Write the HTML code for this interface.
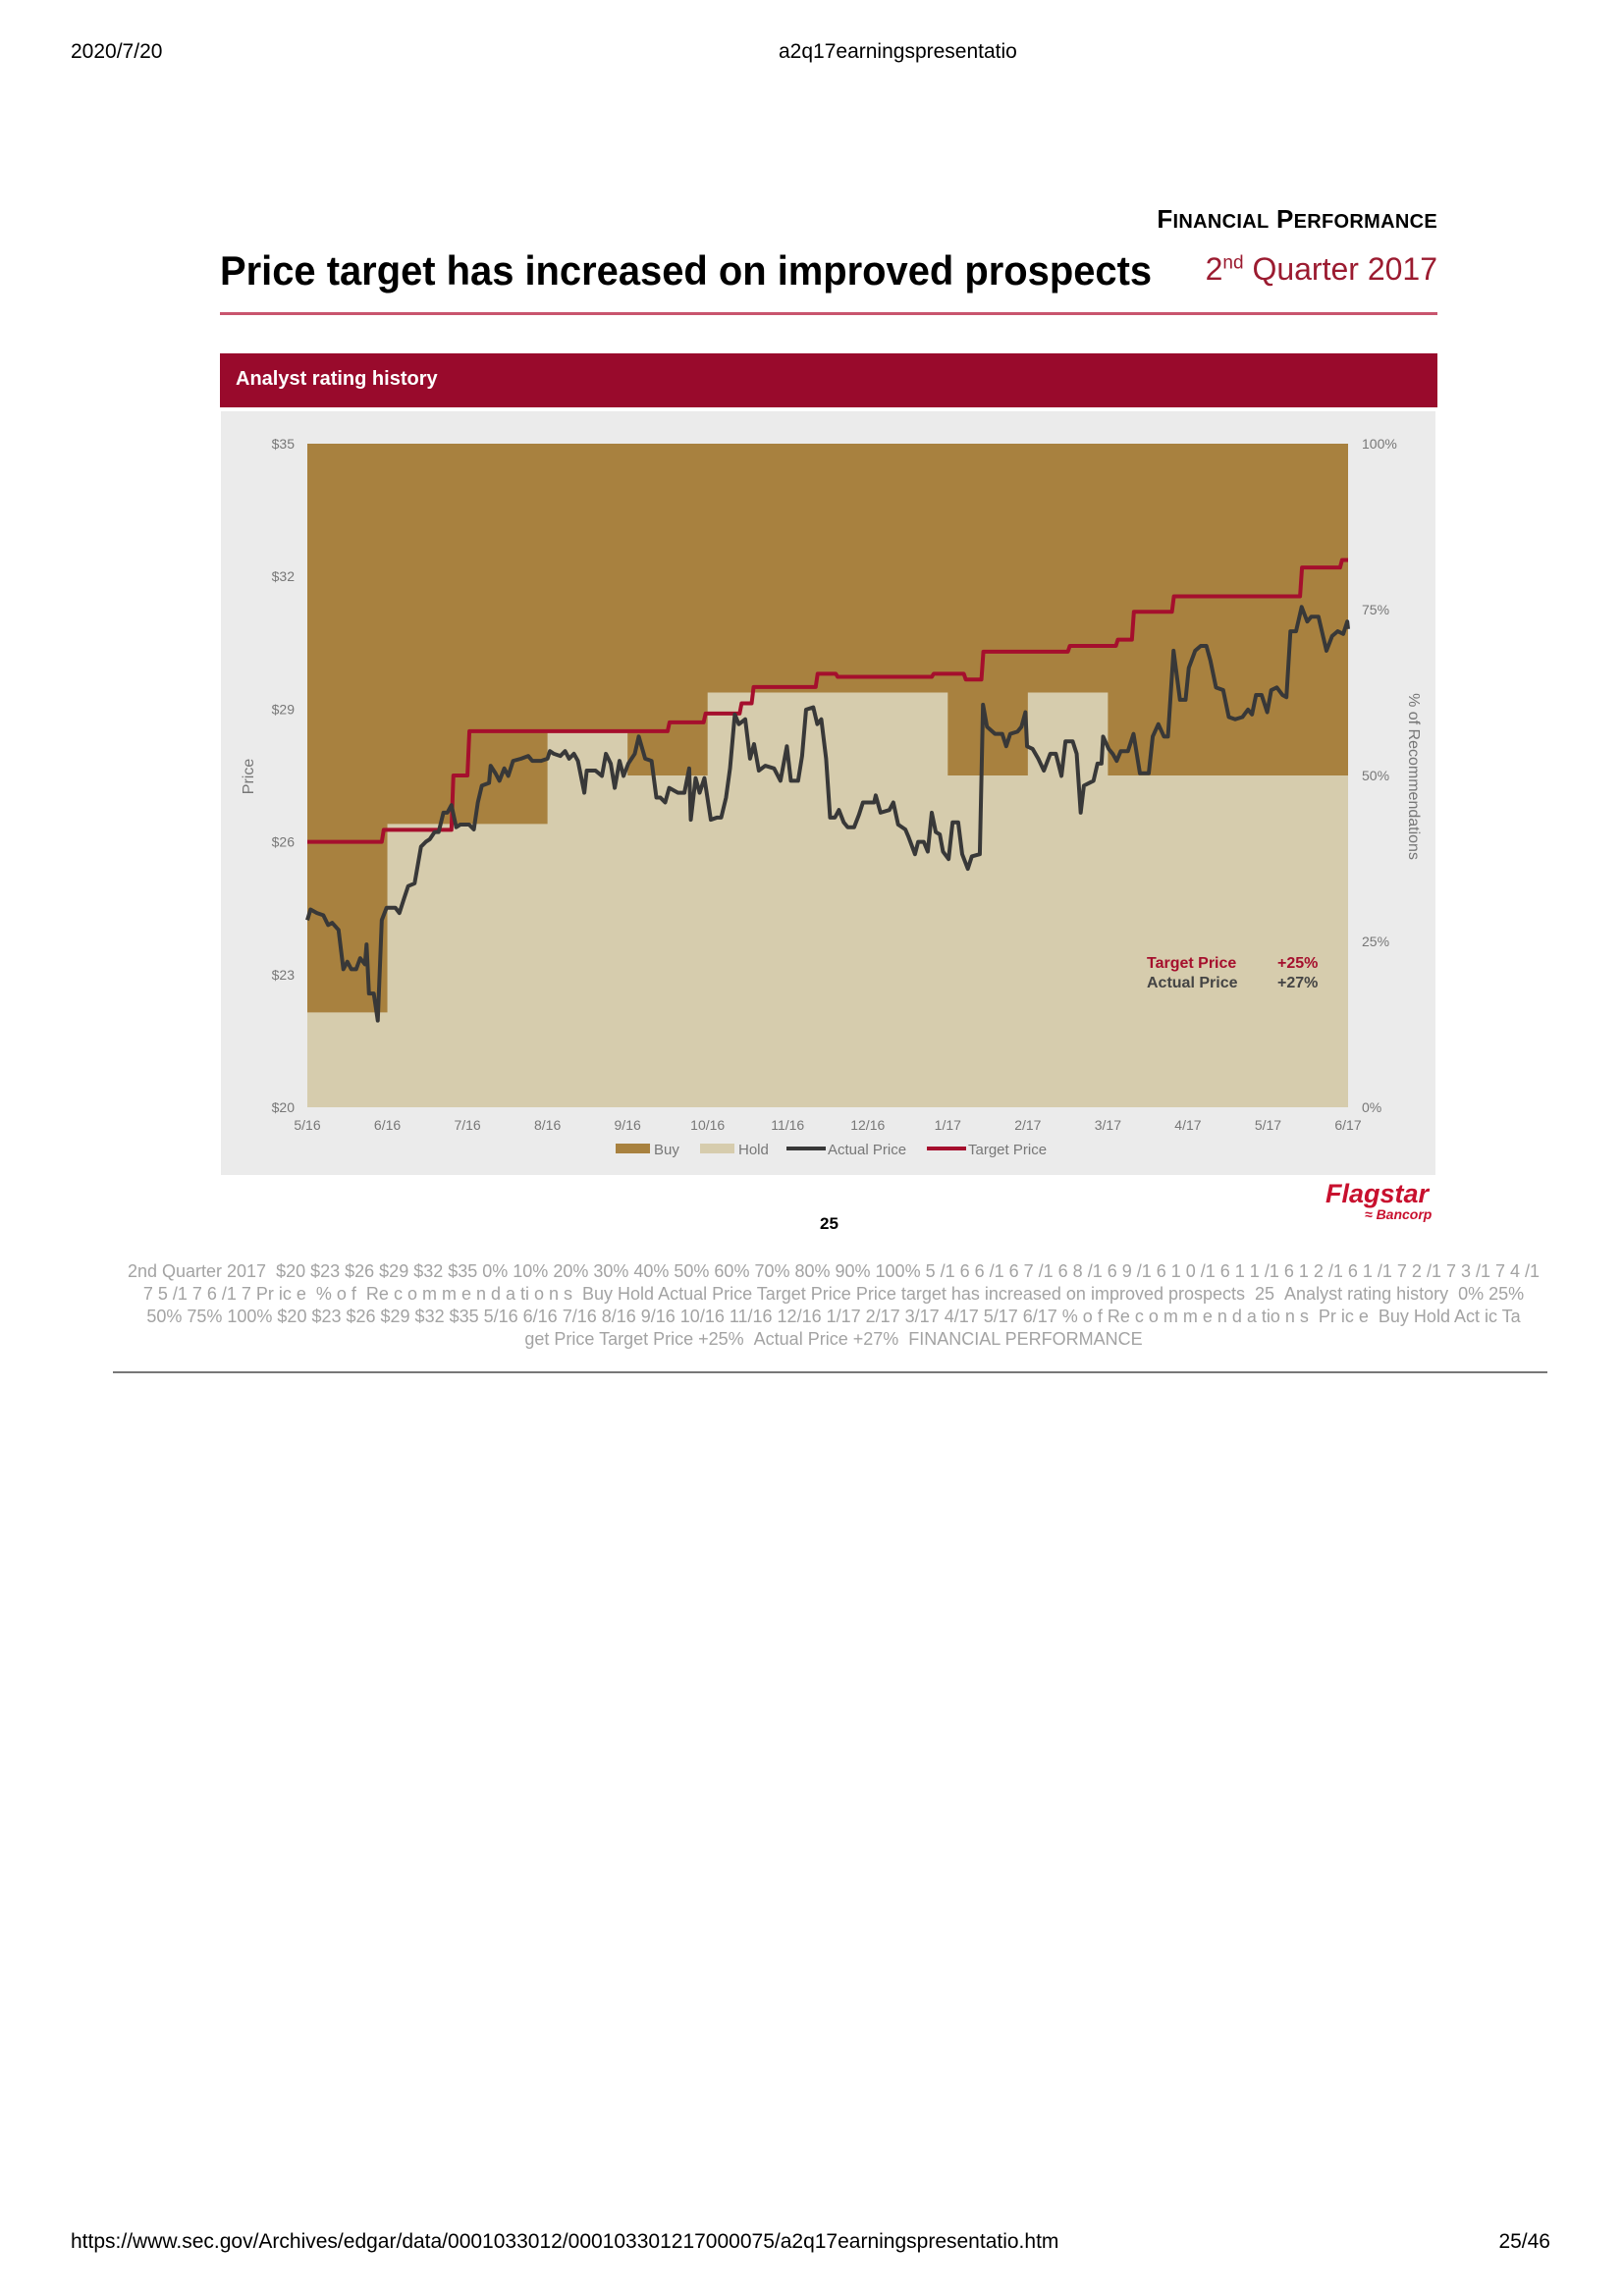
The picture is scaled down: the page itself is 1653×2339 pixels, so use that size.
<!DOCTYPE html>
<html><head><meta charset="utf-8">
<style>
body{margin:0;background:#fff;width:1653px;height:2339px;position:relative;overflow:hidden;font-family:"Liberation Sans",Arial,sans-serif}
.a{position:absolute;white-space:nowrap}
.para{position:absolute;left:0;width:1698px;text-align:center;color:#a3a3a3;font-size:18px;white-space:nowrap}
</style></head><body>
<div class="a" style="left:72px;top:41px;font-size:21px">2020/7/20</div>
<div class="a" style="left:793px;top:41px;font-size:21px">a2q17earningspresentatio</div>
<div class="a" style="right:189px;top:208px;font-size:26px;font-weight:bold;letter-spacing:0.3px">F<span style="font-size:20px">INANCIAL</span> P<span style="font-size:20px">ERFORMANCE</span></div>
<div class="a" style="left:224px;top:252px;font-size:42px;font-weight:bold;transform:scaleX(0.95);transform-origin:left">Price target has increased on improved prospects</div>
<div class="a" style="right:189px;top:256px;font-size:32px;color:#9b1b30">2<sup style="font-size:19px">nd</sup> Quarter 2017</div>
<div class="a" style="left:224px;top:318px;width:1240px;height:3px;background:#c9556e"></div>
<div class="a" style="left:224px;top:360px;width:1240px;height:55px;background:#990a2c"></div>
<div class="a" style="left:240px;top:375px;font-size:20px;font-weight:bold;color:#fff">Analyst rating history</div>
<div class="a" style="left:225px;top:419px;width:1237px;height:778px;background:#ebebeb"></div>
<svg class="a" style="left:0;top:0" width="1653" height="2339" id="chart"></svg>
<div class="a" style="left:835px;top:1237px;font-size:17px;font-weight:bold">25</div>
<div class="a" style="left:1350px;top:1202px;color:#c8102e;font-style:italic;font-weight:bold;font-size:27px;line-height:28px">Flagstar<div style="font-size:14px;line-height:14px;padding-left:40px">≈ Bancorp</div></div>
<div class="para" style="top:1285px">2nd Quarter 2017 &nbsp;$20 $23 $26 $29 $32 $35 0% 10% 20% 30% 40% 50% 60% 70% 80% 90% 100% 5 /1 6 6 /1 6 7 /1 6 8 /1 6 9 /1 6 1 0 /1 6 1 1 /1 6 1 2 /1 6 1 /1 7 2 /1 7 3 /1 7 4 /1</div>
<div class="para" style="top:1308px">7 5 /1 7 6 /1 7 Pr ic e &nbsp;% o f &nbsp;Re c o m m e n d a ti o n s &nbsp;Buy Hold Actual Price Target Price Price target has increased on improved prospects &nbsp;25 &nbsp;Analyst rating history &nbsp;0% 25%</div>
<div class="para" style="top:1331px">50% 75% 100% $20 $23 $26 $29 $32 $35 5/16 6/16 7/16 8/16 9/16 10/16 11/16 12/16 1/17 2/17 3/17 4/17 5/17 6/17 % o f Re c o m m e n d a tio n s &nbsp;Pr ic e &nbsp;Buy Hold Act ic Ta</div>
<div class="para" style="top:1354px">get Price Target Price +25% &nbsp;Actual Price +27% &nbsp;FINANCIAL PERFORMANCE</div>
<div class="a" style="left:115px;top:1397px;width:1461px;height:2px;background:#777"></div>
<div class="a" style="left:72px;top:2272px;font-size:21px">https://www.sec.gov/Archives/edgar/data/0001033012/000103301217000075/a2q17earningspresentatio.htm</div>
<div class="a" style="right:74px;top:2272px;font-size:21px">25/46</div>
<script>
const monthLabels=["5/16","6/16","7/16","8/16","9/16","10/16","11/16","12/16","1/17","2/17","3/17","4/17","5/17","6/17"];
const priceTicks=[20,23,26,29,32,35];
const pctTicks=[0,25,50,75,100];
const holdT=[0,1,3,4,5,8,9,10,13];
const holdPct=[14.3,42.7,56.6,50,62.5,50,62.5,50];
const targetT=[0,0.93,1.8,2.0,4.5,4.95,5.4,5.55,6.35,6.6,7.8,8.2,8.42,9.5,10.1,10.3,10.8,12.4,12.9];
const targetP=[26,26.27,27.5,28.5,28.7,28.9,29.13,29.5,29.8,29.73,29.8,29.67,30.3,30.43,30.57,31.2,31.55,32.2,32.37];
const actualT=[0,.04,.12,.2,.26,.31,.39,.45,.5,.55,.61,.66,.72,.74,.77,.83,.88,.93,.99,1.1,1.15,1.21,1.26,1.34,1.42,1.48,1.53,1.59,1.64,1.7,1.75,1.8,1.86,1.91,2.02,2.08,2.13,2.18,2.27,2.29,2.35,2.4,2.46,2.51,2.57,2.67,2.76,2.81,2.92,3,3.03,3.08,3.16,3.22,3.27,3.33,3.38,3.46,3.49,3.6,3.68,3.73,3.79,3.84,3.9,3.95,4.01,4.09,4.14,4.22,4.3,4.36,4.41,4.47,4.52,4.58,4.63,4.71,4.77,4.79,4.85,4.9,4.96,5.04,5.12,5.17,5.23,5.28,5.34,5.39,5.47,5.53,5.58,5.64,5.72,5.83,5.91,5.99,6.04,6.13,6.18,6.23,6.32,6.37,6.42,6.48,6.53,6.59,6.64,6.7,6.75,6.83,6.89,6.94,6.99,7.08,7.1,7.16,7.27,7.32,7.38,7.47,7.51,7.59,7.63,7.7,7.75,7.8,7.85,7.9,7.94,8.01,8.06,8.13,8.18,8.25,8.3,8.4,8.44,8.49,8.59,8.68,8.73,8.78,8.87,8.92,8.97,8.99,9.06,9.13,9.2,9.28,9.35,9.42,9.47,9.56,9.61,9.66,9.7,9.82,9.87,9.92,9.94,10.01,10.06,10.11,10.16,10.25,10.32,10.4,10.51,10.56,10.63,10.7,10.75,10.82,10.9,10.97,11.01,11.09,11.16,11.23,11.28,11.35,11.44,11.51,11.59,11.68,11.75,11.8,11.85,11.92,11.99,12.04,12.11,12.18,12.23,12.28,12.35,12.42,12.49,12.54,12.63,12.73,12.8,12.87,12.94,12.99,13];
const actualP=[24.23,24.47,24.39,24.34,24.12,24.17,24.01,23.12,23.29,23.12,23.12,23.37,23.23,23.68,22.57,22.57,21.96,24.23,24.51,24.51,24.39,24.73,25,25.06,25.89,26,26.06,26.22,26.22,26.66,26.66,26.83,26.33,26.39,26.39,26.28,26.89,27.27,27.33,27.72,27.55,27.38,27.66,27.49,27.83,27.88,27.94,27.83,27.83,27.88,28.05,27.99,27.94,28.05,27.88,27.99,27.83,27.11,27.61,27.61,27.49,27.99,27.77,27.22,27.83,27.49,27.77,27.99,28.38,27.88,27.83,27,27,26.89,27.22,27.16,27.11,27.11,27.66,26.5,27.44,27.11,27.44,26.5,26.55,26.55,27,27.66,28.88,28.66,28.77,27.88,28.21,27.61,27.72,27.66,27.38,28.16,27.38,27.38,27.94,28.99,29.04,28.66,28.77,27.88,26.55,26.55,26.72,26.44,26.33,26.33,26.61,26.89,26.89,26.89,27.05,26.66,26.72,26.89,26.39,26.28,26.11,25.72,26,26,25.78,26.66,26.22,26.17,25.78,25.61,26.44,26.44,25.72,25.39,25.67,25.72,29.1,28.6,28.44,28.44,28.16,28.44,28.49,28.6,28.93,28.16,28.1,27.88,27.61,27.99,27.99,27.49,28.27,28.27,27.99,26.66,27.27,27.38,27.77,27.77,28.38,28.1,27.99,27.83,28.05,28.05,28.44,27.55,27.55,28.38,28.66,28.38,28.38,30.32,29.21,29.21,29.93,30.32,30.43,30.43,30.1,29.49,29.43,28.82,28.77,28.82,28.99,28.88,29.32,29.32,28.93,29.43,29.49,29.32,29.27,30.76,30.76,31.31,30.98,31.09,31.09,30.32,30.65,30.76,30.7,30.98,30.81];

const svg=document.getElementById('chart');
const NS="http://www.w3.org/2000/svg";
const L=313,R=1373,T=452,B=1128;
const xs=m=>L+(R-L)*m/13;
const yP=p=>B-(B-T)*(p-20)/15;
const yPct=v=>B-(B-T)*v/100;
function mk(tag,attrs,parent){const e=document.createElementNS(NS,tag);for(const k in attrs)e.setAttribute(k,attrs[k]);(parent||svg).appendChild(e);return e;}

const buy=mk('rect',{x:L,y:T,width:R-L,height:B-T,fill:'#a8813f'});


let hd=`M${xs(holdT[0])},${B}`;
for(let i=0;i<holdPct.length;i++){hd+=` L${xs(holdT[i])},${yPct(holdPct[i])} L${xs(holdT[i+1])},${yPct(holdPct[i])}`;}
hd+=` L${xs(holdT[holdT.length-1])},${B} Z`;
const hold=mk('path',{d:hd,fill:'#d6ccad'});



let td=`M${xs(targetT[0])},${yP(targetP[0])}`;
for(let i=1;i<targetT.length;i++){td+=` L${xs(targetT[i])},${yP(targetP[i-1])} L${xs(targetT[i])+2},${yP(targetP[i])}`;}
td+=` L${xs(13)},${yP(targetP[targetP.length-1])}`;
const tgt=mk('path',{d:td,fill:'none',stroke:'#a50f2d','stroke-width':4,'stroke-linejoin':'round'});



const act=mk('polyline',{points:actualT.map((t,i)=>xs(t)+','+yP(actualP[i])).join(' '),fill:'none',stroke:'#383838','stroke-width':4,'stroke-linejoin':'round'});



const tx={fill:'#777','font-size':'14px','font-family':'"Liberation Sans",Arial,sans-serif'};
priceTicks.forEach(p=>{const t=mk('text',Object.assign({x:300,y:yP(p)+5,'text-anchor':'end'},tx));t.textContent='$'+p;

});
pctTicks.forEach(v=>{const t=mk('text',Object.assign({x:1387,y:yPct(v)+5},tx));t.textContent=v+'%';

});
monthLabels.forEach((m,i)=>{const t=mk('text',Object.assign({x:xs(i),y:1151,'text-anchor':'middle'},tx));t.textContent=m;

});
const yl=mk('text',Object.assign({x:0,y:0,transform:'translate(258,791) rotate(-90)','text-anchor':'middle'},tx,{'font-size':'16px'}));yl.textContent='Price';


const yr=mk('text',Object.assign({x:0,y:0,transform:'translate(1435,791) rotate(90)','text-anchor':'middle'},tx,{'font-size':'16px'}));yr.textContent='% of Recommendations';



const lg=[['Buy','rect','#a8813f',627],['Hold','rect','#d6ccad',713],['Actual Price','line','#383838',801],['Target Price','line','#a50f2d',944]];
lg.forEach(([lab,kind,col,x])=>{
 if(kind==='rect'){const r=mk('rect',{x:x,y:1165,width:35,height:10,fill:col});
 }
 else{const l=mk('line',{x1:x,y1:1170,x2:x+40,y2:1170,stroke:col,'stroke-width':4});
 }
 const t=mk('text',Object.assign({x:x+(kind==='rect'?39:42),y:1176},tx,{'font-size':'15px'}));t.textContent=lab;
 
 
});
const an=[['Target Price','+25%','#a50f2d',986],['Actual Price','+27%','#444',1006]];
an.forEach(([a,b,c,y])=>{
 const t1=mk('text',{x:1168,y:y,fill:c,'font-size':'16px','font-weight':'bold','font-family':'"Liberation Sans",Arial,sans-serif'});t1.textContent=a;
 
 
 const t2=mk('text',{x:1301,y:y,fill:c,'font-size':'16px','font-weight':'bold','font-family':'"Liberation Sans",Arial,sans-serif'});t2.textContent=b;
 
 
});
</script>
</body></html>
